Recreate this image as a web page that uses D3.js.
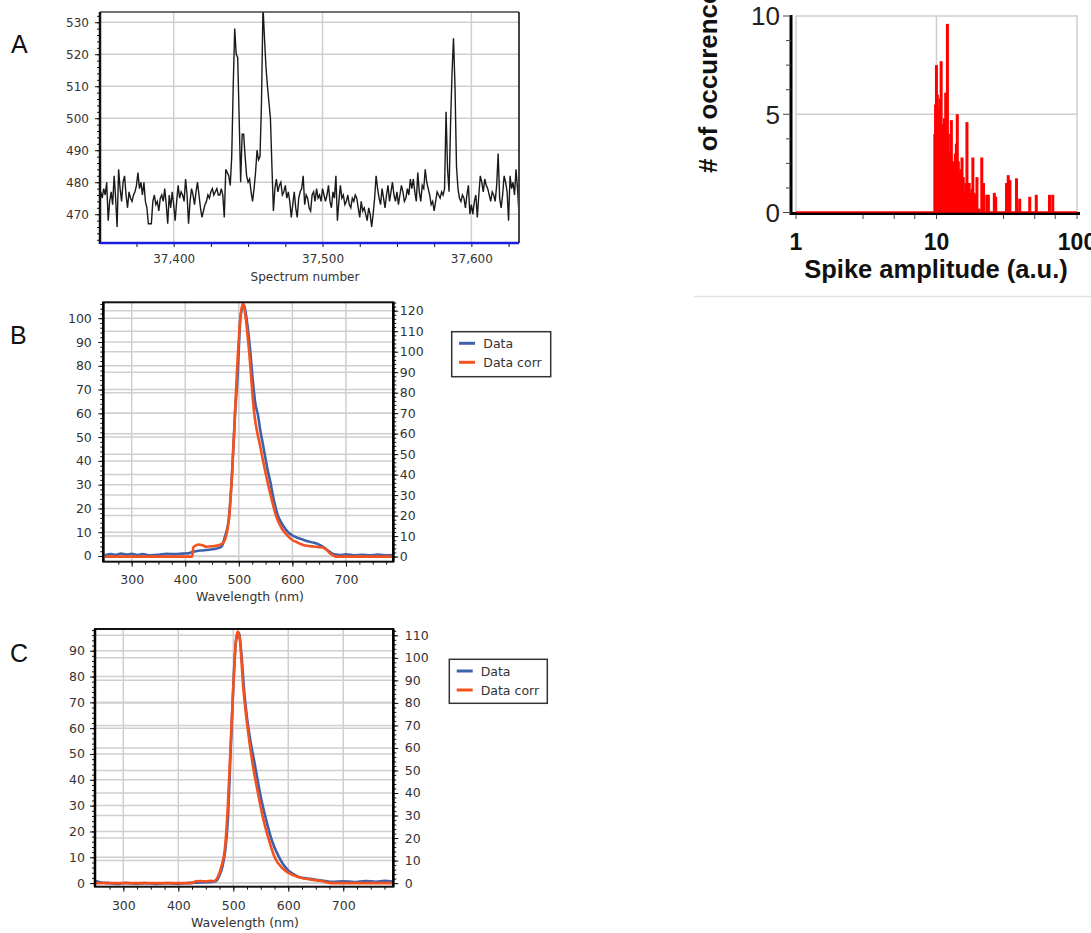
<!DOCTYPE html>
<html><head><meta charset="utf-8">
<script src="https://cdn.jsdelivr.net/npm/d3@7/dist/d3.min.js"></script>
<style>
body{margin:0;background:#fff}
svg{display:block}
</style>
</head><body>
<svg id="chart" width="1091" height="933"></svg>
<script>
// ================= DATA =================
// Panel A: spike trace (one value per spectrum number, starting at specStart)
const specStart = 37351;
const specValues = [
477,475,478,476,480,468,474,477,473,482,475,466,484,478,474,480,482,476,472,477,
475,474,476,477,479,483,478,480,476,480,474,472,467,467,467,474,476,473,474,471,
475,476,474,478,473,467,476,472,477,473,468,474,479,475,477,476,474,481,476,467,
474,478,476,473,477,480,476,472,469,471,473,474,476,475,477,478,476,477,478,476,
476,478,476,469,484,483,482,479,488,510,528,520,519,500,480,495,495,488,482,480,
481,477,474,478,483,490,487,488,505,535,525,516,510,505,500,485,471,478,481,477,
479,480,476,477,479,475,477,474,469,473,477,472,469,475,477,478,482,473,476,475,
472,471,476,477,474,478,475,476,474,478,476,474,476,479,474,472,477,475,482,468,
474,479,475,476,473,474,476,473,472,475,474,476,475,472,469,474,471,472,470,468,
472,470,466,470,475,482,478,475,473,478,475,472,476,479,474,477,480,476,474,477,
473,476,479,477,474,475,478,476,481,478,481,477,474,483,477,474,479,478,484,480,
478,476,473,474,471,474,477,476,475,477,476,478,502,484,477,498,514,525,510,485,
478,475,474,476,475,472,476,479,470,473,470,474,476,469,476,482,480,477,481,479,
478,476,474,477,476,474,479,489,475,472,476,482,480,477,468,482,478,480,476,484,
478,470
];
const aTicksX = [37400, 37500, 37600];
const aTicksY = [470, 480, 490, 500, 510, 520, 530];

// Histogram panel: spike amplitude vs # of occurrences
const histAmp   = [9.73,9.85,9.99,10.14,10.28,10.5,10.64,10.79,11.0,11.2,11.4,11.63,11.96,12.15,12.35,12.55,12.76,13.0,13.25,13.45,13.62,13.85,14.06,14.3,14.6,14.9,15.19,15.5,15.84,16.15,16.47,16.8,17.09,17.4,17.67,17.9,18.15,18.5,18.86,19.1,19.4,20.1,21.0,21.6,22.8,23.4,25.8,26.4,31.5,32.4,33.3,37.1,39.1,46.1,51.3,63.7,67.2];
const histCount = [4.0, 5.5, 7.5, 6.0,  5.2,  4.5, 5.8,  7.7,  4.5, 3.9, 4.8, 6.1,  9.6,  4.0,  2.2,  3.0,  4.7,  2.6, 2.2,  2.5,  3.0,  3.5,  5.0,  2.6, 2.0, 2.2, 2.8,  1.8, 1.0,  1.5,  4.6,  1.2, 1.5,  0.8,  1.0,  1.2, 2.8,  1.0, 0.6,  0.9, 1.8, 0.2, 2.8, 1.5, 0.9, 0.9, 1.0, 0.8, 1.5, 1.9, 1.65,1.74,0.7, 0.8, 0.9, 0.9, 0.9];
const hTicksY = [0, 5, 10];
const hTicksX = [1, 10, 100];

// Panel B spectra
const bDataWl   = [250,262,270,280,290,300,312,320,335,350,365,380,395,405,412,420,430,440,450,460,468,474,481,487,493,498,503,509,515,521,526,531,536,540,545,549,554,559,564,568,573,577,585,592,599,608,618,628,640,650,661,667,674,680,690,700,715,730,745,760,775,788];
const bDataVal  = [0.3,0.8,0.5,1.0,0.6,0.9,0.4,0.8,0.3,0.5,0.9,0.8,1.0,1.1,1.6,2.0,2.3,2.5,2.8,3.2,4.0,8.1,15,33,60,77,100,105.6,99,87,74,64,59,53,47,42,36,31,25,21,17,15,12,10,8.8,7.8,7.0,6.2,5.6,4.8,3.2,2.2,1.1,0.6,0.4,0.7,0.3,0.5,0.3,0.6,0.3,0.4];
const bCorrWl   = [250,300,350,400,413,415,420,425,432,440,450,460,470,476,482,487,492,497,503,508,513,520,528,540,550,560,570,580,590,600,610,620,630,640,650,660,665,670,676,680,690,740,788];
const bCorrVal  = [0,0,0,0,0,4.5,5.5,5.9,5.5,4.8,5.0,5.4,6.5,9.8,19.5,39,65,92.7,117,123.6,116,97.6,71.6,53.7,40.7,29.3,19.5,13.8,10.5,8.1,6.8,5.7,5.2,4.9,4.6,4.1,3.0,1.6,0.6,0,0,0,0];
const bTicksLeft  = [0,10,20,30,40,50,60,70,80,90,100];
const bTicksRight = [0,10,20,30,40,50,60,70,80,90,100,110,120];

// Panel C spectra
const cDataWl   = [250,260,275,290,305,320,340,360,380,400,420,440,455,465,470,475,480,485,490,495,500,505,510,515,520,525,530,540,550,560,570,580,590,600,610,620,635,650,665,680,700,720,740,760,775,790];
const cDataVal  = [0.8,0.2,0.0,-0.3,0.1,-0.2,0.0,-0.3,0.0,-0.2,0.1,0.2,0.3,0.6,1,3,6.2,12,24,50,76,94,97,88,74,64,56.6,45,33.4,24.3,16.6,11.4,7.5,4.9,3.4,2.3,1.8,1.3,0.9,0.5,0.7,0.4,0.8,0.5,0.9,0.6];
const cCorrWl   = [250,300,350,400,425,432,440,450,460,465,470,478,485,490,495,500,505,508,512,518,525,535,545,555,565,575,590,610,630,660,680,700,790];
const cCorrVal  = [0,0,0,0,0,0.8,0.9,0.8,1.0,0.9,2,7.1,16,33.8,60.5,87.2,108,111.7,108,87.2,70.9,53.1,39.8,27.9,19,11.6,6.4,3.4,2.0,0.9,0,0,0];
const cTicksLeft  = [0,10,20,30,40,50,60,70,80,90];
const cTicksRight = [0,10,20,30,40,50,60,70,80,90,100,110];

const wlTicks = [300,400,500,600,700];
const seriesNames = ["Data", "Data corr"];
const panelLetters = ["A", "B", "C"];

// ================= DRAWING =================
const svg = d3.select("#chart");
const FONT = "'DejaVu Sans', Verdana, sans-serif";
const ARIAL = "'Liberation Sans', Arial, sans-serif";
const GRID = "#cfcfcf";
const BLUE = "#3d62aa";
const RED = "#f4511e";

function styleAxis(g, size, color) {
  g.select(".domain").remove();
  g.selectAll(".tick line").attr("stroke", "#111").attr("stroke-width", 1);
  g.selectAll(".tick text").attr("font-family", FONT).attr("font-size", size).attr("fill", color || "#333");
}

// panel letters
const letterPos = [[11, 53], [10, 344], [10, 662]];
panelLetters.forEach((L, i) => {
  svg.append("text").attr("x", letterPos[i][0]).attr("y", letterPos[i][1])
    .attr("font-family", ARIAL).attr("font-size", 25).attr("fill", "#111").text(L);
});

// ---------- Panel A ----------
(function () {
  const L = 100, R = 519, T = 12, B = 243;
  const x = d3.scaleLinear().domain([37350.5, 37632]).range([L, R]);
  const y = d3.scaleLinear().domain([461, 533.2]).range([B, T]);
  const g = svg.append("g");
  svg.append("clipPath").attr("id", "clipA").append("rect").attr("x", L).attr("y", T).attr("width", R - L).attr("height", B - T);

  g.selectAll(".gy").data(aTicksY).join("line").attr("x1", L).attr("x2", R)
    .attr("y1", d => y(d)).attr("y2", d => y(d)).attr("stroke", GRID).attr("stroke-width", 1.5);
  g.selectAll(".gx").data(aTicksX).join("line").attr("y1", T).attr("y2", B)
    .attr("x1", d => x(d)).attr("x2", d => x(d)).attr("stroke", GRID).attr("stroke-width", 1.5);

  const line = d3.line().x((d, i) => x(specStart + i)).y(d => y(d));
  g.append("path").datum(specValues).attr("d", line).attr("fill", "none")
    .attr("stroke", "#1a1a1a").attr("stroke-width", 1.4).attr("clip-path", "url(#clipA)");

  const ym = g.append("g").attr("transform", `translate(${L},0)`)
    .call(d3.axisLeft(y).tickValues(d3.range(462, 533, 2)).tickSize(3).tickFormat(""));
  styleAxis(ym, 12);
  const yM = g.append("g").attr("transform", `translate(${L},0)`)
    .call(d3.axisLeft(y).tickValues(aTicksY).tickSize(5).tickPadding(6));
  styleAxis(yM, 12);
  const xm = g.append("g").attr("transform", `translate(0,${B})`)
    .call(d3.axisBottom(x).tickValues(d3.range(37375, 37632, 25)).tickSize(4).tickFormat(""));
  styleAxis(xm, 12);
  const xM = g.append("g").attr("transform", `translate(0,${B})`)
    .call(d3.axisBottom(x).tickValues(aTicksX).tickSize(4).tickPadding(7).tickFormat(d3.format(",")));
  styleAxis(xM, 12);
  xM.selectAll(".tick line").attr("stroke", "none");

  g.append("line").attr("x1", L).attr("x2", R).attr("y1", T).attr("y2", T).attr("stroke", "#444").attr("stroke-width", 1.5);
  g.append("line").attr("x1", R).attr("x2", R).attr("y1", T).attr("y2", B).attr("stroke", "#444").attr("stroke-width", 2);
  g.append("line").attr("x1", L).attr("x2", L).attr("y1", T).attr("y2", B + 1).attr("stroke", "#111").attr("stroke-width", 2.5);
  g.append("line").attr("x1", L).attr("x2", R).attr("y1", B).attr("y2", B).attr("stroke", "#1c1ce0").attr("stroke-width", 2.5);

  g.append("text").attr("x", 305).attr("y", 280.5).attr("text-anchor", "middle")
    .attr("font-family", FONT).attr("font-size", 12).attr("fill", "#333").text("Spectrum number");
})();

// ---------- Histogram panel ----------
(function () {
  const x = d3.scaleLog().domain([1, 100]).range([796, 1077]);
  const y = d3.scaleLinear().domain([0, 10]).range([212.5, 16]);
  const g = svg.append("g");

  g.append("line").attr("x1", 694).attr("x2", 1091).attr("y1", 296.5).attr("y2", 296.5).attr("stroke", "#e2e2e2").attr("stroke-width", 1.5);

  g.selectAll(".gy").data([5, 10]).join("line").attr("x1", 796).attr("x2", 1078)
    .attr("y1", d => y(d)).attr("y2", d => y(d)).attr("stroke", GRID).attr("stroke-width", 1.5);
  g.selectAll(".gx").data(hTicksX).join("line").attr("y1", 16).attr("y2", 212)
    .attr("x1", d => x(d)).attr("x2", d => x(d)).attr("stroke", GRID).attr("stroke-width", 1.5);

  const bars = histAmp.map((a, i) => ({ a, c: histCount[i] }));
  g.selectAll(".bar").data(bars).join("rect")
    .attr("x", d => x(d.a) - 1.5).attr("width", 3)
    .attr("y", d => y(d.c)).attr("height", d => y(0) - y(d.c))
    .attr("fill", "#ff0000");

  g.append("line").attr("x1", 791).attr("x2", 1080).attr("y1", 213.5).attr("y2", 213.5).attr("stroke", "#000").attr("stroke-width", 3);
  g.append("line").attr("x1", 796).attr("x2", 1077).attr("y1", 212).attr("y2", 212).attr("stroke", "#ff0000").attr("stroke-width", 1.5);
  g.append("line").attr("x1", 791).attr("x2", 791).attr("y1", 15).attr("y2", 215).attr("stroke", "#000").attr("stroke-width", 3);

  const yMinor = [1.25, 2.5, 3.75, 6.25, 7.5, 8.75];
  g.selectAll(".ymn").data(yMinor).join("line").attr("x1", 786).attr("x2", 791)
    .attr("y1", d => y(d)).attr("y2", d => y(d)).attr("stroke", "#444").attr("stroke-width", 1);
  g.selectAll(".ymj").data(hTicksY).join("line").attr("x1", 783).attr("x2", 791)
    .attr("y1", d => y(d)).attr("y2", d => y(d)).attr("stroke", "#444").attr("stroke-width", 1);
  g.selectAll(".ylab").data(hTicksY).join("text").attr("x", 780).attr("y", d => y(d))
    .attr("dy", "0.36em").attr("text-anchor", "end").attr("font-family", ARIAL)
    .attr("font-size", 26).attr("fill", "#222").text(d => d);

  const xMinorTicks = [3, 5, 7, 30, 50, 70];
  g.selectAll(".xmn").data(xMinorTicks.concat(hTicksX)).join("line").attr("y1", 215).attr("y2", 219)
    .attr("x1", d => x(d)).attr("x2", d => x(d)).attr("stroke", "#444").attr("stroke-width", 1);
  g.selectAll(".xlab").data(hTicksX).join("text").attr("x", d => x(d)).attr("y", 250)
    .attr("text-anchor", "middle").attr("font-family", ARIAL).attr("font-weight", "bold")
    .attr("font-size", 23).attr("fill", "#111").text(d => d);

  g.append("text").attr("x", 936).attr("y", 278).attr("text-anchor", "middle")
    .attr("font-family", ARIAL).attr("font-weight", "bold").attr("font-size", 25.5)
    .attr("fill", "#111").text("Spike amplitude (a.u.)");
  g.append("text").attr("transform", "translate(717,173) rotate(-90)")
    .attr("font-family", ARIAL).attr("font-weight", "bold").attr("font-size", 26)
    .attr("fill", "#111").text("# of occurences");
})();

// ---------- Spectrum panels B & C ----------
function spectrumPanel(p) {
  const g = svg.append("g");
  const x = d3.scaleLinear().domain(p.xDomain).range([p.L, p.R]);
  const yL = d3.scaleLinear().domain(p.yLDomain).range([p.B, p.T]);
  const yR = d3.scaleLinear().domain(p.yRDomain).range([p.B, p.T]);
  svg.append("clipPath").attr("id", p.id).append("rect")
    .attr("x", p.L).attr("y", p.T).attr("width", p.R - p.L).attr("height", p.B - p.T);

  g.selectAll(".gl").data(p.ticksL).join("line").attr("x1", p.L).attr("x2", p.R)
    .attr("y1", d => yL(d)).attr("y2", d => yL(d)).attr("stroke", GRID).attr("stroke-width", 1.5);
  g.selectAll(".gr").data(p.ticksR).join("line").attr("x1", p.L).attr("x2", p.R)
    .attr("y1", d => yR(d)).attr("y2", d => yR(d)).attr("stroke", GRID).attr("stroke-width", 1.5);
  g.selectAll(".gx").data(wlTicks).join("line").attr("y1", p.T).attr("y2", p.B)
    .attr("x1", d => x(d)).attr("x2", d => x(d)).attr("stroke", GRID).attr("stroke-width", 1.5);

  const lineL = d3.line().x(d => x(d[0])).y(d => yL(d[1])).curve(d3.curveMonotoneX);
  const lineR = d3.line().x(d => x(d[0])).y(d => yR(d[1])).curve(d3.curveMonotoneX);
  g.append("path").datum(p.dataWl.map((w, i) => [w, p.dataVal[i]])).attr("d", lineL)
    .attr("fill", "none").attr("stroke", BLUE).attr("stroke-width", 2.6).attr("clip-path", `url(#${p.id})`);
  g.append("path").datum(p.corrWl.map((w, i) => [w, p.corrVal[i]])).attr("d", lineR)
    .attr("fill", "none").attr("stroke", RED).attr("stroke-width", 2.6).attr("clip-path", `url(#${p.id})`);

  const lm = g.append("g").attr("transform", `translate(${p.L},0)`)
    .call(d3.axisLeft(yL).tickValues(d3.range(0, p.yLDomain[1], 2)).tickSize(3).tickFormat(""));
  styleAxis(lm, 12.5);
  const lM = g.append("g").attr("transform", `translate(${p.L},0)`)
    .call(d3.axisLeft(yL).tickValues(p.ticksL).tickSize(5).tickPadding(p.padL));
  styleAxis(lM, 12.5);
  const rm = g.append("g").attr("transform", `translate(${p.R},0)`)
    .call(d3.axisRight(yR).tickValues(d3.range(0, p.yRDomain[1], 2)).tickSize(3).tickFormat(""));
  styleAxis(rm, 12.5);
  const rM = g.append("g").attr("transform", `translate(${p.R},0)`)
    .call(d3.axisRight(yR).tickValues(p.ticksR).tickSize(5).tickPadding(p.padR));
  styleAxis(rM, 12.5);
  const bm = g.append("g").attr("transform", `translate(0,${p.B})`)
    .call(d3.axisBottom(x).tickValues(d3.range(275, p.xDomain[1], 25)).tickSize(3).tickFormat(""));
  styleAxis(bm, 12.5);
  const bM = g.append("g").attr("transform", `translate(0,${p.B})`)
    .call(d3.axisBottom(x).tickValues(wlTicks).tickSize(5).tickPadding(p.padB));
  styleAxis(bM, 12.5);

  g.append("rect").attr("x", p.L).attr("y", p.T).attr("width", p.R - p.L).attr("height", p.B - p.T)
    .attr("fill", "none").attr("stroke", "#111").attr("stroke-width", 2);
  g.append("line").attr("x1", p.L).attr("x2", p.L).attr("y1", p.T).attr("y2", p.B).attr("stroke", "#000").attr("stroke-width", 2.5);
  g.append("line").attr("x1", p.R).attr("x2", p.R).attr("y1", p.T).attr("y2", p.B).attr("stroke", "#000").attr("stroke-width", 2.5);

  g.append("text").attr("x", p.titleX).attr("y", p.titleY).attr("text-anchor", "middle")
    .attr("font-family", FONT).attr("font-size", 12.5).attr("fill", "#333").text("Wavelength (nm)");

  const lg = g.append("g");
  lg.append("rect").attr("x", p.leg[0]).attr("y", p.leg[1]).attr("width", p.leg[2]).attr("height", p.leg[3])
    .attr("fill", "#fff").attr("stroke", "#333").attr("stroke-width", 1.5);
  [BLUE, RED].forEach((c, i) => {
    const yy = p.legRows[i];
    lg.append("line").attr("x1", p.legSw[0]).attr("x2", p.legSw[1]).attr("y1", yy).attr("y2", yy)
      .attr("stroke", c).attr("stroke-width", 3);
    lg.append("text").attr("x", p.legText).attr("y", yy).attr("dy", "0.36em")
      .attr("font-family", FONT).attr("font-size", 12.5).attr("fill", "#333").text(seriesNames[i]);
  });
}

spectrumPanel({
  id: "clipB", L: 103.3, R: 393.3, T: 302.3, B: 561.7,
  xDomain: [247, 788.4], yLDomain: [-2.4, 106.7], yRDomain: [-2.5, 124.1],
  ticksL: bTicksLeft, ticksR: bTicksRight, padL: 6.5, padR: 1.5, padB: 8,
  dataWl: bDataWl, dataVal: bDataVal, corrWl: bCorrWl, corrVal: bCorrVal,
  titleX: 250, titleY: 601,
  leg: [451.7, 331.7, 99, 45], legRows: [343.3, 362.3], legSw: [459, 475], legText: 483.3
});
spectrumPanel({
  id: "clipC", L: 95, R: 393.3, T: 629, B: 886.7,
  xDomain: [248.5, 791], yLDomain: [-1.4, 98.4], yRDomain: [-1.6, 112.8],
  ticksL: cTicksLeft, ticksR: cTicksRight, padL: 5, padR: 6.5, padB: 9.5,
  dataWl: cDataWl, dataVal: cDataVal, corrWl: cCorrWl, corrVal: cCorrVal,
  titleX: 245, titleY: 927,
  leg: [449.3, 659.3, 98, 44], legRows: [671, 690], legSw: [456.7, 472.7], legText: 480.7
});
</script>
</body></html>
